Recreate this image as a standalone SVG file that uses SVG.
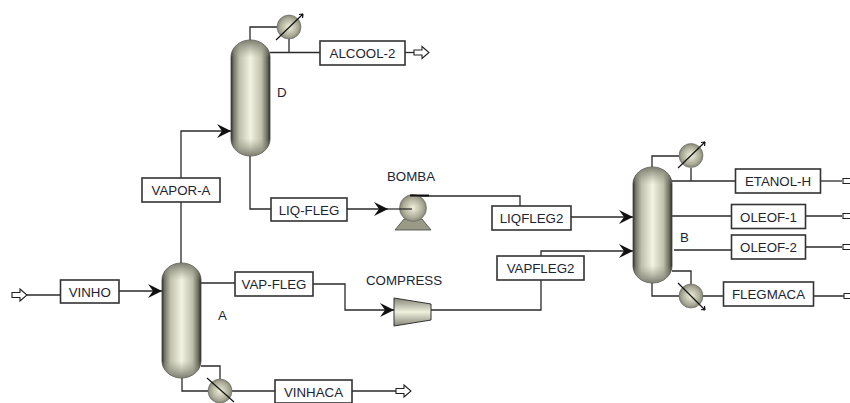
<svg xmlns="http://www.w3.org/2000/svg" width="850" height="403" viewBox="0 0 850 403">
<style>
text{font-family:"Liberation Sans",Arial,sans-serif;font-size:13.3px;fill:#1c2433}
.b{fill:#fff;stroke:#333;stroke-width:1.6}
.c{fill:none;stroke:#2a2a2a;stroke-width:1.3}
.o{fill:#fff;stroke:#222;stroke-width:1.1}
.e{fill:url(#ball);stroke:#666;stroke-width:.6}
.x{fill:none;stroke:#111;stroke-width:1.2}
.col{fill:url(#colg);stroke:#444;stroke-width:.8}
.dome{fill:url(#domeg);stroke:none}
</style>
<defs>
<linearGradient id="colg" x1="0" x2="1" y1="0" y2="0">
<stop offset="0" stop-color="#2f2f28"/><stop offset=".07" stop-color="#77776a"/><stop offset=".22" stop-color="#c0c0ad"/><stop offset=".5" stop-color="#f3f3e2"/><stop offset=".78" stop-color="#c0c0ad"/><stop offset=".93" stop-color="#6c6c5e"/><stop offset="1" stop-color="#2b2b25"/>
</linearGradient>
<linearGradient id="domeg" x1="0" x2="0" y1="0" y2="1">
<stop offset="0" stop-color="#77776a" stop-opacity=".95"/><stop offset=".15" stop-color="#9a9a88" stop-opacity="0"/><stop offset=".85" stop-color="#9a9a88" stop-opacity="0"/><stop offset="1" stop-color="#77776a" stop-opacity=".95"/>
</linearGradient>
<radialGradient id="ball" cx=".5" cy=".5" r=".55">
<stop offset="0" stop-color="#f0f0dd"/><stop offset=".7" stop-color="#a8a894"/><stop offset="1" stop-color="#757565"/>
</radialGradient>
<linearGradient id="comp" x1="0" x2="0" y1="0" y2="1">
<stop offset="0" stop-color="#85857a"/><stop offset=".5" stop-color="#f0f0dd"/><stop offset="1" stop-color="#85857a"/>
</linearGradient>
<marker id="ar" markerUnits="userSpaceOnUse" markerWidth="16" markerHeight="14" refX="14" refY="7" orient="auto">
<path d="M0 0L14 7L0 14L5 7Z" fill="#111"/>
</marker>
<path id="open" d="M0 -2.500H8V-6L15 0L8 6V2.500H0Z" class="o"/>
</defs>
<g id="connectors">
<path class="c" d="M27 295H60"/>
<path class="c" d="M119 291H162" marker-end="url(#ar)"/>
<path class="c" d="M181 263V131H231" marker-end="url(#ar)"/>
<path class="c" d="M201 283H235"/>
<path class="c" d="M313 284H345V310H394" marker-end="url(#ar)"/>
<path class="c" d="M431 310H541V280"/>
<path class="c" d="M541 256V251H633" marker-end="url(#ar)"/>
<path class="c" d="M250 156V209H271"/>
<path class="c" d="M347 209H388" marker-end="url(#ar)"/>
<path class="c" d="M413 196H520V206"/>
<path class="c" d="M571 217H633" marker-end="url(#ar)"/>
<path class="c" d="M250 40V27H277M289 39V52.500M270 52.500H320"/>
<path class="c" d="M405 52.500H414"/>
<path class="c" d="M201 366H220V379M182 378V391H208M232 391H275"/>
<path class="c" d="M352 391H396"/>
<path class="c" d="M652 167V156H679M691 168V181M672 181H735"/>
<path class="c" d="M820 181H842"/>
<path class="c" d="M672 216H731.500M805 216H842"/>
<path class="c" d="M674 250H731.500M805 247H842"/>
<path class="c" d="M672 271H691V284M652 283V296H679M703 296H723.500M813.500 296H844"/>
</g>
<g id="feed-in"><use href="#open" x="12" y="295"/></g>
<g id="out-alcool"><use href="#open" x="414" y="52.500"/></g>
<g id="out-vinhaca"><use href="#open" x="396" y="391"/></g>
<g id="out-etanol"><use href="#open" x="843" y="181"/></g>
<g id="out-oleof1"><use href="#open" x="843" y="216"/></g>
<g id="out-oleof2"><use href="#open" x="843" y="247"/></g>
<g id="out-flegmaca"><use href="#open" x="844" y="296"/></g>
<g id="col-D"><rect class="col" x="231" y="40" width="39" height="116" rx="19.500" ry="17"/><rect class="dome" x="231" y="40" width="39" height="116" rx="19.500" ry="17"/><text x="277" y="97">D</text></g>
<g id="col-A"><rect class="col" x="162" y="263" width="39" height="115" rx="19.500" ry="17"/><rect class="dome" x="162" y="263" width="39" height="115" rx="19.500" ry="17"/><text x="218" y="320">A</text></g>
<g id="col-B"><rect class="col" x="633" y="167" width="39" height="116" rx="19.500" ry="17"/><rect class="dome" x="633" y="167" width="39" height="116" rx="19.500" ry="17"/><text x="680" y="242">B</text></g>
<g id="cond-D"><circle class="e" cx="289" cy="27" r="12"/><path class="x" d="M276 40L303 14M303 14l-4 .5M303 14l-.5 4"/></g>
<g id="reb-A"><circle class="e" cx="220" cy="391" r="12"/><path class="x" d="M207 378L234 402"/></g>
<g id="cond-B"><circle class="e" cx="691" cy="155.500" r="12"/><path class="x" d="M678 168L705 142M705 142l-4 .5M705 142l-.5 4"/></g>
<g id="reb-B"><circle class="e" cx="691" cy="296" r="12"/><path class="x" d="M678 283L705 310M705 310l-4 -.5M705 310l-.5 -4"/></g>
<g id="BOMBA"><path d="M395 230L404 219H422L431 230Z" fill="#9a9a86" stroke="#444" stroke-width=".8"/><circle class="e" cx="413" cy="208" r="13.500"/><path d="M410 195.500H429" stroke="#111" stroke-width="2"/><path d="M388 209H412" stroke="#222" stroke-width="1.200"/><text x="387" y="181">BOMBA</text></g>
<g id="COMPRESS"><path d="M394 298L431 304V320L394 326Z" fill="url(#comp)" stroke="#333"/><text x="366" y="285">COMPRESS</text></g>
<g id="s-VINHO"><rect class="b" x="60.500" y="280" width="58.500" height="23"/><text x="89.700" y="296.500" text-anchor="middle">VINHO</text></g>
<g id="s-VAPOR-A"><rect class="b" x="142" y="178" width="78" height="24"/><text x="181" y="195" text-anchor="middle">VAPOR-A</text></g>
<g id="s-VAP-FLEG"><rect class="b" x="235" y="272" width="78" height="24"/><text x="274" y="289" text-anchor="middle">VAP-FLEG</text></g>
<g id="s-LIQ-FLEG"><rect class="b" x="271" y="198" width="76" height="23"/><text x="309" y="214.500" text-anchor="middle">LIQ-FLEG</text></g>
<g id="s-ALCOOL-2"><rect class="b" x="320" y="41" width="85" height="24"/><text x="362.500" y="58" text-anchor="middle">ALCOOL-2</text></g>
<g id="s-VINHACA"><rect class="b" x="275" y="380" width="77" height="23"/><text x="313.500" y="396.500" text-anchor="middle">VINHACA</text></g>
<g id="s-LIQFLEG2"><rect class="b" x="492" y="206" width="79" height="24"/><text x="531.500" y="223" text-anchor="middle">LIQFLEG2</text></g>
<g id="s-VAPFLEG2"><rect class="b" x="497" y="256" width="87" height="24"/><text x="540.500" y="273" text-anchor="middle">VAPFLEG2</text></g>
<g id="s-ETANOL-H"><rect class="b" x="735.500" y="169" width="85" height="24"/><text x="778" y="186" text-anchor="middle">ETANOL-H</text></g>
<g id="s-OLEOF-1"><rect class="b" x="731.500" y="204.500" width="74" height="24"/><text x="768.500" y="221.500" text-anchor="middle">OLEOF-1</text></g>
<g id="s-OLEOF-2"><rect class="b" x="731.500" y="235" width="74" height="24"/><text x="768.500" y="252" text-anchor="middle">OLEOF-2</text></g>
<g id="s-FLEGMACA"><rect class="b" x="723.500" y="282" width="90" height="24"/><text x="768.500" y="299" text-anchor="middle">FLEGMACA</text></g>
</svg>
